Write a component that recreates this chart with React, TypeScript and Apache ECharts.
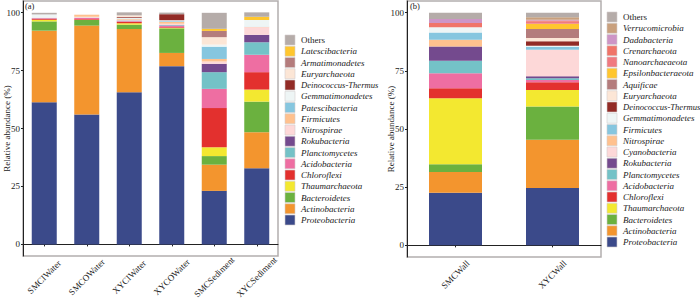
import React, { useEffect, useRef } from "react";
import * as echarts from "echarts";

// ---------- data ----------
const categoriesA = ["SMCIWater", "SMCOWater", "XYCIWater", "XYCOWater", "SMCSediment", "XYCSediment"];
const categoriesB = ["SMCWall", "XYCWall"];
const yTicks = [0, 25, 50, 75, 100];

// Panel (a): relative abundance (%) per sample
const aProteobacteria = [61.3, 56.0, 65.6, 76.9, 23.1, 32.9];
const aActinobacteria = [30.9, 38.4, 27.3, 5.7, 11.3, 15.5];
const aBacteroidetes = [4.0, 2.4, 1.9, 10.6, 3.7, 13.2];
const aThaumarchaeota = [0.7, 0.1, 0.6, 0.2, 3.8, 5.2];
const aChloroflexi = [0.4, 0.3, 0.6, 0.3, 16.9, 7.5];
const aAcidobacteria = [0.3, 0.5, 0.3, 0.5, 8.3, 7.5];
const aPlanctomycetes = [0.1, 0.1, 0.2, 0.3, 7.2, 5.4];
const aRokubacteria = [0.0, 0.0, 0.1, 0.1, 3.6, 3.2];
const aNitrospirae = [0.2, 0.4, 0.3, 0.6, 1.0, 3.3];
const aFirmicutes = [0.0, 0.8, 0.3, 0.8, 1.1, 0.1];
const aPatescibacteria = [0.0, 0.0, 0.2, 0.3, 5.3, 0.1];
const aGemmatimonadetes = [1.3, 0.0, 0.4, 0.4, 0.9, 2.9];
const aDeinococcusThermus = [0.0, 0.0, 0.3, 2.6, 0.0, 0.0];
const aEuryarchaeota = [0.0, 0.3, 0.7, 0.0, 3.2, 0.0];
const aArmatimonadetes = [0.0, 0.0, 0.0, 0.0, 2.7, 0.0];
const aLatescibacteria = [0.0, 0.0, 0.0, 0.0, 0.9, 1.4];
const aOthers = [0.7, 0.0, 1.3, 0.7, 6.9, 1.9];

// Panel (b)
const bProteobacteria = [22.6, 24.6];
const bActinobacteria = [8.9, 20.8];
const bBacteroidetes = [3.3, 14.3];
const bThaumarchaeota = [28.4, 7.1];
const bChloroflexi = [4.3, 3.3];
const bAcidobacteria = [6.5, 1.0];
const bPlanctomycetes = [5.3, 0.7];
const bRokubacteria = [6.1, 0.9];
const bCyanobacteria = [0.0, 11.3];
const bNitrospirae = [2.9, 0.0];
const bFirmicutes = [3.2, 1.3];
const bGemmatimonadetes = [2.2, 0.5];
const bDeinococcusThermus = [0.0, 1.9];
const bEuryarchaeota = [0.0, 1.4];
const bAquificae = [0.0, 3.9];
const bEpsilonbacteraeota = [0.0, 2.2];
const bNanoarchaeaeota = [0.0, 0.9];
const bCrenarchaeota = [1.9, 0.5];
const bDadabacteria = [1.7, 0.3];
const bVerrucomicrobia = [0.0, 1.1];
const bOthers = [2.7, 2.0];

// stacking order, bottom to top
const taxaA: [string, number[]][] = [
  ["Proteobacteria", aProteobacteria],
  ["Actinobacteria", aActinobacteria],
  ["Bacteroidetes", aBacteroidetes],
  ["Thaumarchaeota", aThaumarchaeota],
  ["Chloroflexi", aChloroflexi],
  ["Acidobacteria", aAcidobacteria],
  ["Planctomycetes", aPlanctomycetes],
  ["Rokubacteria", aRokubacteria],
  ["Nitrospirae", aNitrospirae],
  ["Firmicutes", aFirmicutes],
  ["Patescibacteria", aPatescibacteria],
  ["Gemmatimonadetes", aGemmatimonadetes],
  ["Deinococcus-Thermus", aDeinococcusThermus],
  ["Euryarchaeota", aEuryarchaeota],
  ["Armatimonadetes", aArmatimonadetes],
  ["Latescibacteria", aLatescibacteria],
  ["Others", aOthers],
];

const taxaB: [string, number[]][] = [
  ["Proteobacteria", bProteobacteria],
  ["Actinobacteria", bActinobacteria],
  ["Bacteroidetes", bBacteroidetes],
  ["Thaumarchaeota", bThaumarchaeota],
  ["Chloroflexi", bChloroflexi],
  ["Acidobacteria", bAcidobacteria],
  ["Planctomycetes", bPlanctomycetes],
  ["Rokubacteria", bRokubacteria],
  ["Cyanobacteria", bCyanobacteria],
  ["Nitrospirae", bNitrospirae],
  ["Firmicutes", bFirmicutes],
  ["Gemmatimonadetes", bGemmatimonadetes],
  ["Deinococcus-Thermus", bDeinococcusThermus],
  ["Euryarchaeota", bEuryarchaeota],
  ["Aquificae", bAquificae],
  ["Epsilonbacteraeota", bEpsilonbacteraeota],
  ["Nanoarchaeaeota", bNanoarchaeaeota],
  ["Crenarchaeota", bCrenarchaeota],
  ["Dadabacteria", bDadabacteria],
  ["Verrucomicrobia", bVerrucomicrobia],
  ["Others", bOthers],
];

// ---------- styles ----------
const colorsA = [
  "#3B4A8A", "#F3952E", "#6BB13F", "#F3E830", "#E3302E", "#EE6EA2", "#74C2C7", "#744A8E",
  "#FDD8D8", "#FFC18E", "#86C6DF", "#EEF5F5", "#922B26", "#FCE6D6", "#B47C7C", "#FFC62E",
  "#B5ACA9",
];
const colorsB = [
  "#3B4A8A", "#F3952E", "#6BB13F", "#F3E830", "#E3302E", "#EE6EA2", "#74C2C7", "#744A8E",
  "#FDD8D8", "#FFC18E", "#86C6DF", "#EEF5F5", "#922B26", "#FCE6D6", "#B47C7C", "#FFC62E",
  "#F07A80", "#F07468", "#CD95C6", "#C9A07D", "#B5ACA9",
];

const FONT = "'Liberation Serif', 'DejaVu Serif', serif";
const TXT = "#222";

export default function App() {
  const ref = useRef<HTMLDivElement>(null);

  useEffect(() => {
    if (!ref.current) return;
    const chart = echarts.init(ref.current, undefined, { renderer: "svg" });

    const mkX = (gridIndex: number, data: string[], margin: number) => ({
      type: "category",
      gridIndex,
      data,
      boundaryGap: true,
      axisLine: { show: true, lineStyle: { color: TXT, width: 1 } },
      axisTick: { show: true, length: 2, alignWithLabel: true, lineStyle: { color: TXT } },
      axisLabel: {
        rotate: 45,
        interval: 0,
        fontSize: 9,
        fontFamily: FONT,
        color: TXT,
        margin,
        align: "center",
        verticalAlign: "middle",
      },
      splitLine: { show: false },
    });

    const mkY = (gridIndex: number) => ({
      type: "value",
      gridIndex,
      min: -5,
      max: 105,
      name: "Relative abundance (%)",
      nameLocation: "middle",
      nameGap: 12,
      nameMoveOverlap: false,
      nameTextStyle: { fontSize: 9, fontFamily: FONT, color: TXT },
      axisLine: { show: true, lineStyle: { color: TXT, width: 1 } },
      axisTick: { show: true, length: 2, customValues: yTicks, lineStyle: { color: TXT } },
      axisLabel: { fontSize: 9, fontFamily: FONT, color: TXT, margin: 3, customValues: yTicks },
      splitLine: { show: false },
    });

    const seriesA = taxaA.map(([name, values], i) => ({
      type: "bar",
      name,
      xAxisIndex: 0,
      yAxisIndex: 0,
      stack: "a",
      barWidth: 25,
      data: values,
      itemStyle: { color: colorsA[i] },
    }));
    const seriesB = taxaB.map(([name, values], i) => ({
      type: "bar",
      name,
      xAxisIndex: 1,
      yAxisIndex: 1,
      stack: "b",
      barWidth: 53,
      data: values,
      itemStyle: { color: colorsB[i] },
    }));

    // legend keys drawn as graphic swatches + texts, top to bottom
    const legendGraphics = (taxa: [string, number[]][], colors: string[], x0: number, y0: number) => {
      const items = taxa.map(([name], i) => ({ name, color: colors[i] })).reverse();
      const out: any[] = [];
      items.forEach((it, k) => {
        const cy = y0 + k * 11.25;
        out.push({
          type: "rect",
          shape: { x: x0, y: cy - 5, width: 10, height: 10 },
          style: { fill: it.color, stroke: "#D3CFCF", lineWidth: 0.6 },
          silent: true,
        });
        out.push({
          type: "text",
          x: x0 + 16,
          y: cy,
          style: {
            text: it.name,
            fontSize: it.name === "Deinococcus-Thermus" ? 8.6 : 9,
            fontFamily: FONT,
            fontStyle: it.name === "Others" ? "normal" : "italic",
            fill: TXT,
            align: "left",
            verticalAlign: "middle",
            textAlign: "left",
            textVerticalAlign: "middle",
          },
          silent: true,
        });
      });
      return out;
    };

    chart.setOption({
      animation: false,
      backgroundColor: "#fff",
      grid: [
        {
          left: 23, right: 422, top: 1, bottom: 43,
          show: true, borderColor: "#B3AEAE", borderWidth: 1.5,
          outerBoundsMode: "none", containLabel: false,
        },
        {
          left: 407, right: 99, top: 1, bottom: 42,
          show: true, borderColor: "#B3AEAE", borderWidth: 1.5,
          outerBoundsMode: "none", containLabel: false,
        },
      ],
      xAxis: [mkX(0, categoriesA, 21), mkX(1, categoriesB, 17.5)],
      yAxis: [mkY(0), mkY(1)],
      graphic: [
        { type: "text", left: 25, top: 1, style: { text: "(a)", fontSize: 8.5, fontFamily: FONT, fill: TXT } },
        { type: "text", left: 410, top: 1, style: { text: "(b)", fontSize: 8.5, fontFamily: FONT, fill: TXT } },
        ...legendGraphics(taxaA, colorsA, 285, 40),
        ...legendGraphics(taxaB, colorsB, 607, 17),
      ],
      series: [...seriesA, ...seriesB],
    });

    return () => chart.dispose();
  }, []);

  return (
    <div
      ref={ref}
      style={{ position: "absolute", left: 0, top: 0, width: 700, height: 299 }}
    />
  );
}
